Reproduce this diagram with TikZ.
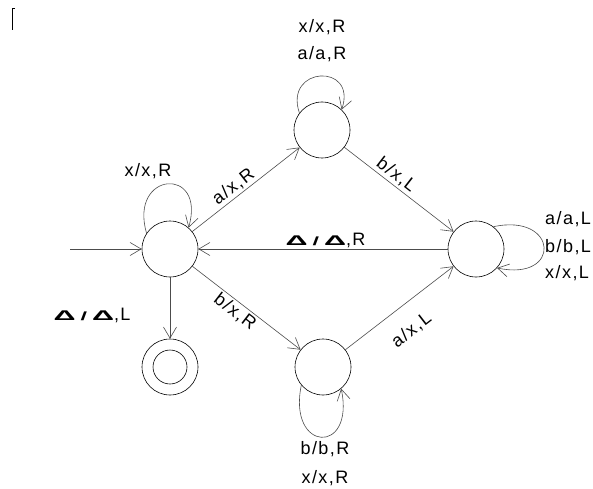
\documentclass[tikz,border=0pt]{standalone}
\usepackage{fontspec}
\setmainfont{Liberation Sans}[LetterSpace=8]
\usetikzlibrary{arrows.meta}

% blank symbol and its slash
\newcommand{\blanksym}{\scalebox{1.7}[0.78]{\bfseries Δ}}
\newcommand{\slashsym}{\scalebox{1.3}[0.66]{\bfseries /}}
\newcommand{\blankrule}[1]{\blanksym\hspace{5pt}\slashsym\hspace{5pt}\blanksym,#1}

\begin{document}
\begin{tikzpicture}[x=1pt, y=1pt, font=\fontsize{18}{22}\selectfont,
  >={Straight Barb[length=11pt, width=13pt]},
  state/.style={circle, draw, line width=0.6pt, minimum size=56pt, inner sep=0pt},
  tr/.style={->, draw=black!70, line width=0.6pt},
  lbl/.style={inner sep=2pt}, lp/.style={anchor=base, inner sep=0pt}]
\useasboundingbox (0,0) rectangle (593,488);
\draw[line width=0.6pt] (15,480) -- (12,480) -- (12,458);
% states
\node[state] (q0) at (170,239) {};
\node[state] (q1) at (322,358) {};
\node[state] (q2) at (476,239) {};
\node[state] (q3) at (323,121) {};
\node[state] (q4) at (170,121) {};
\node[circle, draw, line width=0.6pt, minimum size=34pt, inner sep=0pt] (q4in) at (q4) {};
\coordinate (start) at (70,239);
% transitions
\draw[tr] (start) -- (q0);
\draw[tr] (q0) -- node[lbl, sloped, above, pos=0.44]{a/x,R} (q1);
\draw[tr] (q1) -- node[lbl, sloped, above, pos=0.42]{b/x,L} (q2);
\draw[tr] (q2) -- node[lbl, above, inner sep=1pt, pos=0.49]{\blankrule{R}} (q0);
\draw[tr] (q0) -- node[lbl, sloped, below, pos=0.45]{b/x,R} (q3);
\draw[tr] (q3) -- node[lbl, sloped, below=15pt, pos=0.47]{a/x,L} (q2);
\draw[tr] (q0) -- (q4);
% loops
\draw[tr] (q0.146) .. controls +(-18,62) and +(18,62) .. (q0.49);
\draw[tr] (q1.143) .. controls +(-16,47) and +(16,47) .. (q1.46);
\draw[tr] (q2.52) .. controls +(65,14) and +(65,-14) .. (q2.-42);
\draw[tr] (q3.-140) .. controls +(-14,-67) and +(14,-67) .. (q3.-50);
% loop labels
\node[lp] (l0) at (148,312) {x/x,R};
\node[lp] (l1a) at (322,455) {x/x,R};
\node[lp] (l1b) at (322,428) {a/a,R};
\node[lp, anchor=base west] (l2a) at (545,264) {a/a,L};
\node[lp, anchor=base west] (l2b) at (545,236) {b/b,L};
\node[lp, anchor=base west] (l2c) at (545,210) {x/x,L};
\node[lp] (l3a) at (325,34) {b/b,R};
\node[lp] (l3b) at (325,5) {x/x,R};
\node[lp] (l4) at (92,168) {\blankrule{L}};
\end{tikzpicture}
\end{document}
